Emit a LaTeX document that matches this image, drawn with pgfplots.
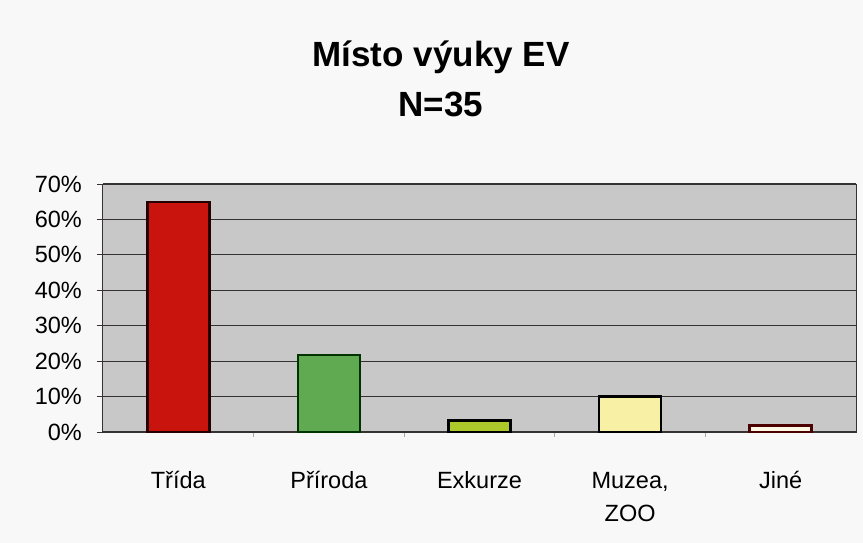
\documentclass[border=0pt]{standalone}
\usepackage{pgfplots}
\pgfplotsset{compat=1.18}
\usepackage{fontspec}
\setmainfont{Liberation Sans}

\definecolor{pagebg}{RGB}{248,248,248}
\definecolor{plotbg}{RGB}{200,200,200}
\definecolor{gridc}{RGB}{55,50,50}
\definecolor{cTrida}{RGB}{200,20,12}
\definecolor{cPriroda}{RGB}{96,170,82}
\definecolor{cExkurze}{RGB}{172,200,42}
\definecolor{cMuzea}{RGB}{248,240,165}
\definecolor{cJine}{RGB}{252,248,228}

\begin{document}
\begin{tikzpicture}
\path[use as bounding box, fill=pagebg] (-103bp,-111bp) rectangle (760bp,432bp);
\begin{axis}[
  scale only axis, width=753bp, height=248bp,
  xmin=-0.5, xmax=4.5, ymin=0, ymax=70,
  axis background/.style={fill=plotbg},
  axis line style={draw=gridc, line width=1bp},
  ybar, bar width=62bp, bar shift=0pt,
  ytick={0,10,...,70},
  yticklabel={\pgfmathprintnumber{\tick}\%},
  /pgf/number format/assume math mode=true,
  ymajorgrids, grid style={gridc, line width=1.2bp},
  tick align=outside, major tick length=6bp,
  xtick pos=bottom, ytick pos=left,
  ytick style={draw=gridc, line width=1bp},
  yticklabel style={font=\fontsize{23.5bp}{28bp}\selectfont, anchor=east, inner sep=0pt, xshift=-15bp},
  xtick={0,1,2,3,4},
  xticklabels={Třída, Příroda, Exkurze,
    {\setlength{\tabcolsep}{0pt}\begin{tabular}[t]{c}Muzea,\\ZOO\end{tabular}}, Jiné},
  xtick style={draw=none},
  minor xtick={0.5,1.5,2.5,3.5},
  minor tick length=5bp,
  minor x tick style={draw=black!35, line width=1bp},
  xticklabel style={font=\fontsize{23.5bp}{33bp}\selectfont, anchor=base, inner sep=0pt, yshift=-50bp},
  every axis plot/.append style={draw=black, line width=2.5bp},
]
\addplot[fill=cTrida, draw=black!85!red] coordinates {(0,64.9)};
\addplot[fill=cPriroda, draw=black!80!green] coordinates {(1,21.7)};
\addplot[fill=cExkurze] coordinates {(2,3.2)};
\addplot[fill=cMuzea] coordinates {(3,10.0)};
\addplot[fill=cJine, draw=black!70!red] coordinates {(4,1.8)};
\end{axis}
\node[anchor=base, font=\fontsize{35bp}{50bp}\selectfont\bfseries] at (338bp,365bp) {Místo výuky EV};
\node[anchor=base, font=\fontsize{35bp}{50bp}\selectfont\bfseries] at (338bp,315bp) {N=35};
\end{tikzpicture}
\end{document}
